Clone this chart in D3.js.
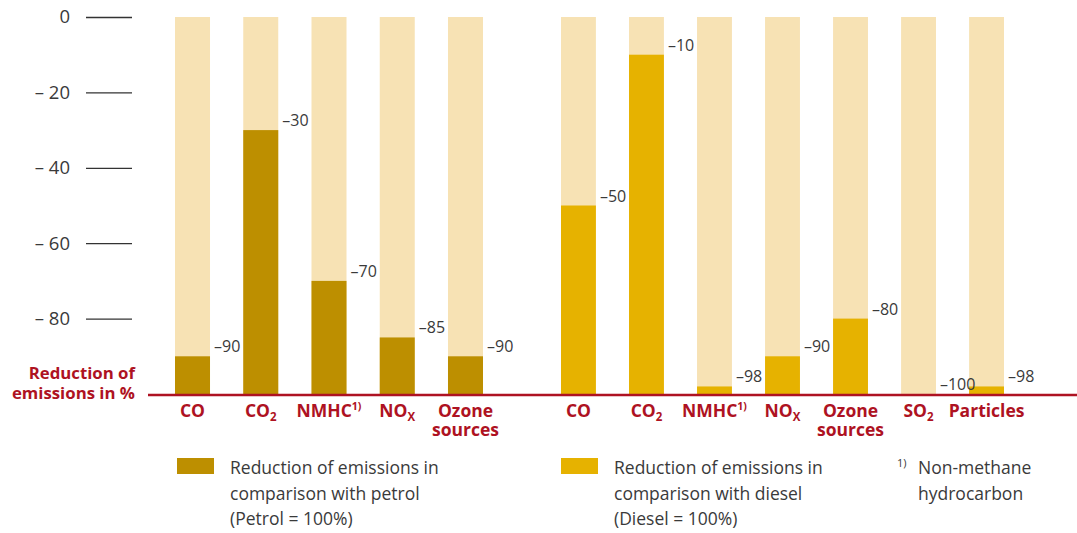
<!DOCTYPE html>
<html>
<head>
<meta charset="utf-8">
<script src="https://cdn.jsdelivr.net/npm/d3@7"></script>
<style>
  body { margin: 0; background: #fff; }
  svg { display: block; font-family: "Open Sans", "Noto Sans", sans-serif; }
</style>
</head>
<body>
<div id="chart"></div>
<script>
// Data
const petrolCategories = ['CO', 'CO2', 'NMHC', 'NOx', 'Ozone sources'];
const petrolValues = [-90, -30, -70, -85, -90];
const dieselCategories = ['CO', 'CO2', 'NMHC', 'NOx', 'Ozone sources', 'SO2', 'Particles'];
const dieselValues = [-50, -10, -98, -90, -80, -100, -98];
const yTicks = [0, -20, -40, -60, -80];
const legendPetrol = ['Reduction of emissions in', 'comparison with petrol', '(Petrol = 100%)'];
const legendDiesel = ['Reduction of emissions in', 'comparison with diesel', '(Diesel = 100%)'];
const footnote = ['Non-methane', 'hydrocarbon'];

const w = 1077;
const h = 533;
const colors = { petrol: '#bd8f00', diesel: '#e6b200', bg: '#f7e2b4', red: '#ae1222', text: '#3a3a3a' };

const svg = d3.select('#chart')
  .append('svg')
  .attr('width', w)
  .attr('height', h);

// Scales
const yScale = d3.scaleLinear()
  .domain([0, -100])
  .range([17, 394]);

const xPetrol = d3.scaleBand()
  .domain(petrolCategories)
  .range([175, 483])
  .paddingInner(0.487)
  .paddingOuter(0);

const xDiesel = d3.scaleBand()
  .domain(dieselCategories)
  .range([561, 1004])
  .paddingInner(0.487)
  .paddingOuter(0);

// y axis
const yAxis = d3.axisLeft(yScale)
  .tickValues(yTicks)
  .tickSize(46)
  .tickPadding(16)
  .tickFormat(d => d === 0 ? '0' : '\u2013 ' + Math.abs(d));

svg.append('g')
  .classed('y-axis', true)
  .attr('transform', 'translate(132, 0)')
  .call(yAxis);

svg.select('.y-axis .domain').remove();
svg.selectAll('.y-axis .tick line')
  .attr('stroke', '#333')
  .attr('stroke-width', 1.3);
svg.selectAll('.y-axis .tick text')
  .attr('fill', colors.text)
  .attr('font-size', 18.5)
  .attr('font-family', '"Open Sans", sans-serif');

// Bars for one group
const drawGroup = (cats, vals, xScale, color) => {
  const data = cats.map((c, i) => ({ cat: c, value: vals[i] }));
  const g = svg.append('g');

  g.selectAll('rect.bg')
    .data(data)
    .join('rect')
    .attr('class', 'bg')
    .attr('x', d => xScale(d.cat))
    .attr('y', yScale(0))
    .attr('width', xScale.bandwidth())
    .attr('height', yScale(-100) - yScale(0))
    .attr('fill', colors.bg);

  g.selectAll('rect.val')
    .data(data)
    .join('rect')
    .attr('class', 'val')
    .attr('x', d => xScale(d.cat))
    .attr('y', d => yScale(d.value))
    .attr('width', xScale.bandwidth())
    .attr('height', d => yScale(-100) - yScale(d.value))
    .attr('fill', color);

  g.selectAll('text.val')
    .data(data)
    .join('text')
    .attr('class', 'val')
    .attr('x', d => xScale(d.cat) + xScale.bandwidth() + 4)
    .attr('y', d => yScale(d.value) - 4)
    .attr('font-size', 16)
    .attr('fill', colors.text)
    .text(d => '\u2013' + Math.abs(d.value));

  // category labels
  const labels = g.selectAll('text.cat')
    .data(data)
    .join('text')
    .attr('class', 'cat')
    .attr('x', d => xScale(d.cat) + xScale.bandwidth() / 2)
    .attr('y', 417)
    .attr('text-anchor', 'middle')
    .attr('font-size', 17.5)
    .attr('font-weight', 'bold')
    .attr('fill', colors.red);

  labels.each(function(d) {
    const t = d3.select(this);
    const sub = (base, s) => {
      t.append('tspan').text(base);
      t.append('tspan').attr('font-size', 11.5).attr('dy', 4).text(s);
    };
    if (d.cat === 'CO2') sub('CO', '2');
    else if (d.cat === 'SO2') sub('SO', '2');
    else if (d.cat === 'NOx') sub('NO', 'X');
    else if (d.cat === 'NMHC') {
      t.append('tspan').text('NMHC');
      t.append('tspan').attr('font-size', 10.5).attr('dy', -7).text('1)');
    } else if (d.cat === 'Ozone sources') {
      t.append('tspan').text('Ozone');
      t.append('tspan').attr('x', t.attr('x')).attr('dy', 19).text('sources');
    } else t.text(d.cat);
  });
};

drawGroup(petrolCategories, petrolValues, xPetrol, colors.petrol);
drawGroup(dieselCategories, dieselValues, xDiesel, colors.diesel);

// Red baseline
svg.append('line')
  .attr('x1', 148)
  .attr('x2', w)
  .attr('y1', yScale(-100) + 1)
  .attr('y2', yScale(-100) + 1)
  .attr('stroke', colors.red)
  .attr('stroke-width', 2.5);

// Axis title
const title = svg.append('text')
  .attr('text-anchor', 'end')
  .attr('font-size', 16.8)
  .attr('font-weight', 'bold')
  .attr('fill', colors.red);
title.append('tspan').attr('x', 135).attr('y', 379).text('Reduction of');
title.append('tspan').attr('x', 135).attr('y', 399).text('emissions in %');

// Legend
const legend = (x, color, lines) => {
  svg.append('rect')
    .attr('x', x)
    .attr('y', 458)
    .attr('width', 37)
    .attr('height', 16)
    .attr('fill', color);
  const t = svg.append('text')
    .attr('font-size', 17.5)
    .attr('fill', colors.text);
  lines.forEach((l, i) => {
    t.append('tspan').attr('x', x + 53).attr('y', 474 + i * 25.5).text(l);
  });
};
legend(177, colors.petrol, legendPetrol);
legend(561, colors.diesel, legendDiesel);

// Footnote
svg.append('text')
  .attr('x', 897)
  .attr('y', 467)
  .attr('font-size', 11)
  .attr('fill', colors.text)
  .text('1)');
const fn = svg.append('text')
  .attr('font-size', 17.5)
  .attr('fill', colors.text);
footnote.forEach((l, i) => {
  fn.append('tspan').attr('x', 918).attr('y', 474 + i * 25.5).text(l);
});
</script>
</body>
</html>
